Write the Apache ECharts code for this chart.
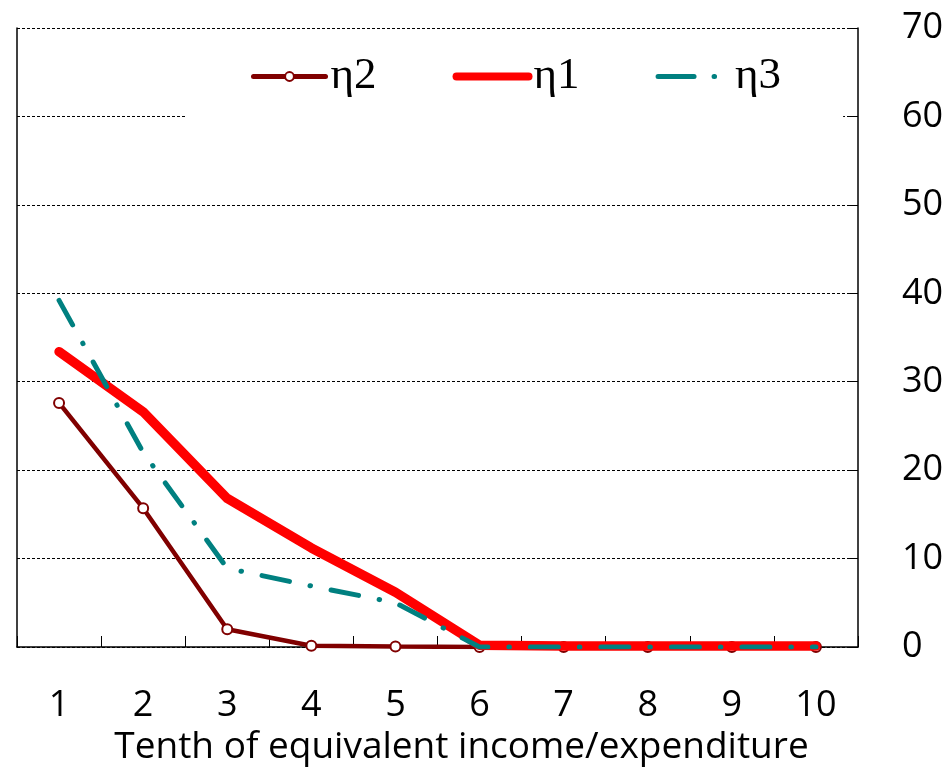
<!DOCTYPE html>
<html>
<head>
<meta charset="utf-8">
<script src="https://cdn.jsdelivr.net/npm/echarts@6/dist/echarts.min.js"></script>
<style>
html,body{margin:0;padding:0;background:#fff;}
#chart{width:946px;height:769px;}
</style>
</head>
<body>
<div id="chart"></div>
<script>
const categories = ['1','2','3','4','5','6','7','8','9','10'];
const eta2 = [27.6, 15.7, 2.0, 0.15, 0.05, 0, 0, 0, 0, 0];
const eta1 = [33.4, 26.6, 16.8, 11.2, 6.2, 0.2, 0.1, 0.1, 0.1, 0.1];
const eta3 = [39.2, 22.0, 8.9, 6.9, 5.0, 0, 0, 0, 0, 0];
const yTicks = [0, 10, 20, 30, 40, 50, 60, 70];

const chart = echarts.init(document.getElementById('chart'), null, {renderer: 'canvas'});
const sans = 'Open Sans';
const serif = 'Liberation Serif';

chart.setOption({
  animation: false,
  backgroundColor: '#fff',
  grid: {left: 17, right: 88, top: 28, bottom: 122, containLabel: false, outerBoundsMode: 'none'},
  legend: {
    left: 185,
    top: 30,
    padding: [24, 62, 24, 66],
    backgroundColor: '#fff',
    itemWidth: 72,
    itemHeight: 11,
    itemGap: 76,
    textStyle: {fontFamily: serif, fontSize: 45, color: '#000'},
    data: [
      {name: 'η2', lineStyle: {width: 5, color: '#800000', cap: 'round'}},
      {name: 'η1', lineStyle: {width: 8, color: '#ff0000', cap: 'round'}, itemStyle: {opacity: 0}},
      {name: 'η3', lineStyle: {width: 5, color: '#008080', type: [36, 20, 0.5, 100], cap: 'round'}, itemStyle: {opacity: 0}}
    ],
    z: 10
  },
  xAxis: {
    type: 'category',
    data: categories,
    boundaryGap: true,
    name: 'Tenth of equivalent income/expenditure',
    nameLocation: 'middle',
    nameGap: 76,
    nameTextStyle: {fontFamily: sans, fontSize: 37, color: '#000', padding: [0, 0, 0, 48]},
    axisLine: {show: true, lineStyle: {color: '#000', width: 1.5}},
    axisTick: {show: true, inside: true, length: 11, alignWithLabel: false, lineStyle: {color: '#000', width: 1}},
    axisLabel: {fontFamily: sans, fontSize: 36, color: '#000', margin: 41},
    splitLine: {show: false}
  },
  yAxis: [
    {
      type: 'value',
      position: 'right',
      min: 0, max: 70, interval: 10,
      axisLine: {show: true, lineStyle: {color: '#000', width: 1.5}},
      axisTick: {show: true, inside: true, length: 8, lineStyle: {color: '#000'}},
      axisLabel: {fontFamily: sans, fontSize: 36, color: '#000', margin: 44,
        formatter: v => yTicks.includes(v) ? String(v) : ''},
      splitLine: {show: true, lineStyle: {color: '#000', width: 1, type: [3, 2]}}
    },
    {
      type: 'value',
      position: 'left',
      min: 0, max: 70, interval: 10,
      axisLine: {show: true, lineStyle: {color: '#000', width: 1.5}},
      axisTick: {show: false},
      axisLabel: {show: false},
      splitLine: {show: false}
    }
  ],
  series: [
    {
      name: 'η2', type: 'line', data: eta2,
      color: '#800000',
      symbol: 'emptyCircle', symbolSize: 10,
      itemStyle: {color: '#800000', borderWidth: 2},
      lineStyle: {color: '#800000', width: 4.5},
      z: 2
    },
    {
      name: 'η1', type: 'line', data: eta1,
      color: '#ff0000',
      symbol: 'none',
      lineStyle: {color: '#ff0000', width: 9.5, cap: 'round', join: 'round'},
      z: 3
    },
    {
      name: 'η3', type: 'line', data: eta3,
      color: '#008080',
      symbol: 'none',
      lineStyle: {color: '#008080', width: 5, type: [28, 21, 0.5, 21], cap: 'round', join: 'round'},
      z: 4
    }
  ]
});
</script>
</body>
</html>
